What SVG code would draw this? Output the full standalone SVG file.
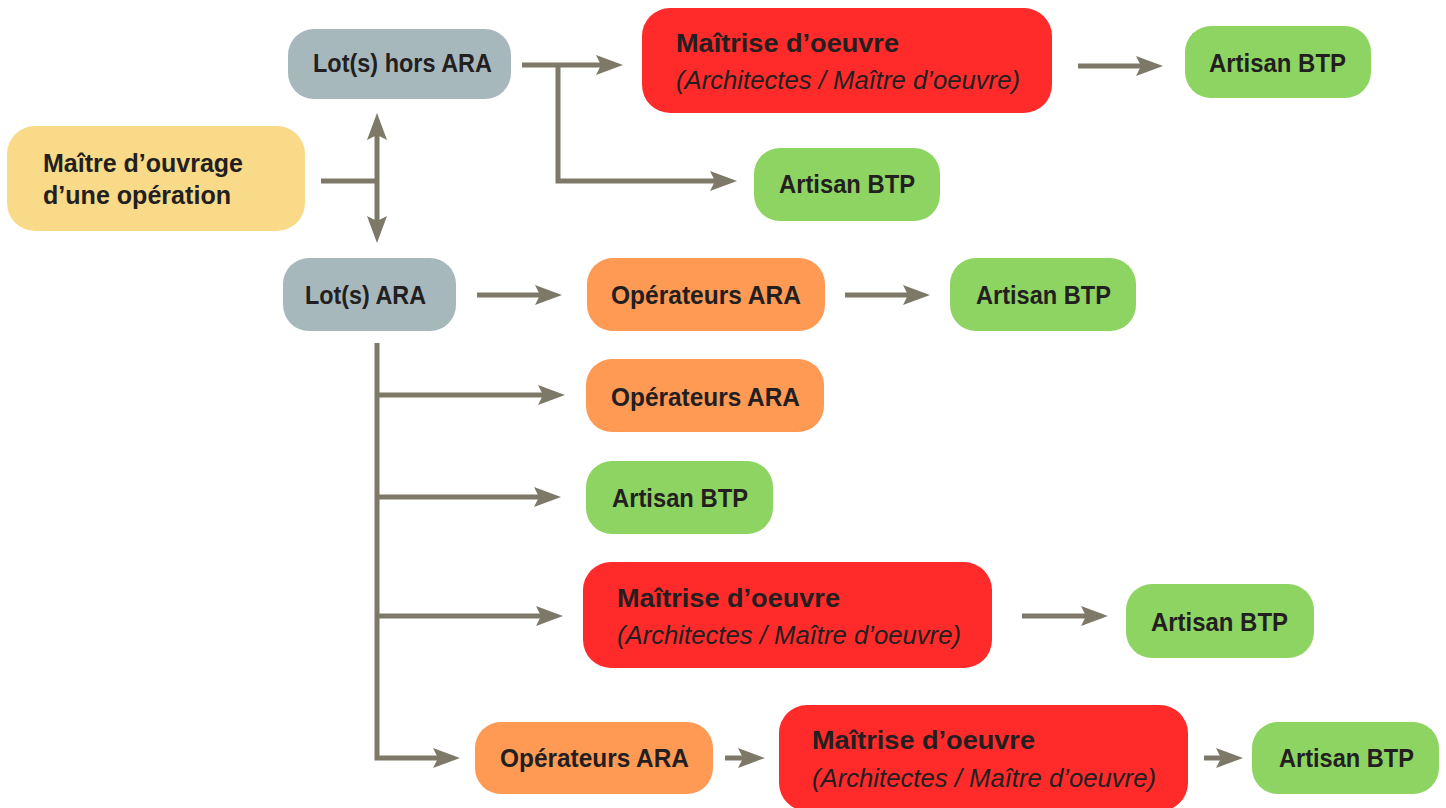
<svg xmlns="http://www.w3.org/2000/svg" width="1446" height="808" viewBox="0 0 1446 808">
<style>
.b{font-family:"Liberation Sans",Arial,sans-serif;font-weight:bold;font-size:26px;fill:#231F20}
.i{font-family:"Liberation Sans",Arial,sans-serif;font-style:italic;font-size:26px;fill:#231F20}
.yel{fill:#F8DA88}
.gry{fill:#A7B8BD}
.red{fill:#FF2B2B}
.org{fill:#FF9A55}
.grn{fill:#8ED462}
.c{fill:none;stroke:#7E7868;stroke-width:5;stroke-linejoin:miter}
.a{marker-end:url(#ah)}
</style>
<defs>
<marker id="ah" markerUnits="userSpaceOnUse" viewBox="-6 -11 30 22" markerWidth="30" markerHeight="22" refX="0" refY="0" orient="auto-start-reverse" overflow="visible">
<path d="M22,0 L-5,-10 L0,0 L-5,10 Z" fill="#7E7868"/>
</marker>
</defs>
<rect width="1446" height="808" fill="#FFFFFF"/>
<g id="connectors">
<path class="c" d="M321,181 H377"/>
<path class="c" d="M377,135 V221" marker-start="url(#ah)" marker-end="url(#ah)"/>
<path class="c a" d="M522,65 H601"/>
<path class="c a" d="M558,65 V181 H715"/>
<path class="c a" d="M1078,66 H1141"/>
<path class="c a" d="M477,295 H540"/>
<path class="c a" d="M845,295 H908"/>
<path class="c a" d="M377,343 V758 H438"/>
<path class="c a" d="M377,395 H543"/>
<path class="c a" d="M377,497 H539"/>
<path class="c a" d="M377,616 H541"/>
<path class="c a" d="M725,758 H743"/>
<path class="c a" d="M1022,616 H1086"/>
<path class="c a" d="M1204,758 H1221"/>
</g>
<g id="maitre-ouvrage">
<rect class="yel" x="7" y="126" width="298" height="105" rx="28"/>
<text class="b" x="43" y="172" textLength="200" lengthAdjust="spacingAndGlyphs">Maître d’ouvrage</text>
<text class="b" x="43" y="204" textLength="188" lengthAdjust="spacingAndGlyphs">d’une opération</text>
</g>
<g id="lots-hors-ara">
<rect class="gry" x="288" y="29" width="223" height="70" rx="26"/>
<text class="b" x="313" y="72" textLength="179" lengthAdjust="spacingAndGlyphs">Lot(s) hors ARA</text>
</g>
<g id="lots-ara">
<rect class="gry" x="283" y="258" width="173" height="73" rx="26"/>
<text class="b" x="305" y="304" textLength="121" lengthAdjust="spacingAndGlyphs">Lot(s) ARA</text>
</g>
<g id="moe-1">
<rect class="red" x="642" y="8" width="410" height="105" rx="28"/>
<text class="b" x="676" y="52" textLength="223" lengthAdjust="spacingAndGlyphs">Maîtrise d’oeuvre</text>
<text class="i" x="676" y="89" textLength="344" lengthAdjust="spacingAndGlyphs">(Architectes / Maître d’oeuvre)</text>
</g>
<g id="artisan-1">
<rect class="grn" x="1185" y="26" width="186" height="72" rx="26"/>
<text class="b" x="1209" y="72" textLength="137" lengthAdjust="spacingAndGlyphs">Artisan BTP</text>
</g>
<g id="artisan-2">
<rect class="grn" x="754" y="148" width="186" height="73" rx="26"/>
<text class="b" x="779" y="193" textLength="136" lengthAdjust="spacingAndGlyphs">Artisan BTP</text>
</g>
<g id="operateurs-1">
<rect class="org" x="587" y="258" width="238" height="73" rx="26"/>
<text class="b" x="611" y="304" textLength="190" lengthAdjust="spacingAndGlyphs">Opérateurs ARA</text>
</g>
<g id="artisan-3">
<rect class="grn" x="950" y="258" width="186" height="73" rx="26"/>
<text class="b" x="976" y="304" textLength="135" lengthAdjust="spacingAndGlyphs">Artisan BTP</text>
</g>
<g id="operateurs-2">
<rect class="org" x="586" y="359" width="238" height="73" rx="26"/>
<text class="b" x="611" y="406" textLength="189" lengthAdjust="spacingAndGlyphs">Opérateurs ARA</text>
</g>
<g id="artisan-4">
<rect class="grn" x="586" y="461" width="187" height="73" rx="26"/>
<text class="b" x="612" y="507" textLength="136" lengthAdjust="spacingAndGlyphs">Artisan BTP</text>
</g>
<g id="moe-2">
<rect class="red" x="583" y="562" width="409" height="106" rx="28"/>
<text class="b" x="617" y="607" textLength="223" lengthAdjust="spacingAndGlyphs">Maîtrise d’oeuvre</text>
<text class="i" x="617" y="644" textLength="344" lengthAdjust="spacingAndGlyphs">(Architectes / Maître d’oeuvre)</text>
</g>
<g id="artisan-5">
<rect class="grn" x="1126" y="584" width="188" height="74" rx="26"/>
<text class="b" x="1151" y="631" textLength="137" lengthAdjust="spacingAndGlyphs">Artisan BTP</text>
</g>
<g id="operateurs-3">
<rect class="org" x="475" y="722" width="238" height="72" rx="26"/>
<text class="b" x="500" y="767" textLength="189" lengthAdjust="spacingAndGlyphs">Opérateurs ARA</text>
</g>
<g id="moe-3">
<rect class="red" x="779" y="705" width="409" height="106" rx="28"/>
<text class="b" x="812" y="749" textLength="223" lengthAdjust="spacingAndGlyphs">Maîtrise d’oeuvre</text>
<text class="i" x="812" y="787" textLength="344" lengthAdjust="spacingAndGlyphs">(Architectes / Maître d’oeuvre)</text>
</g>
<g id="artisan-6">
<rect class="grn" x="1252" y="722" width="187" height="72" rx="26"/>
<text class="b" x="1279" y="767" textLength="135" lengthAdjust="spacingAndGlyphs">Artisan BTP</text>
</g>
</svg>
